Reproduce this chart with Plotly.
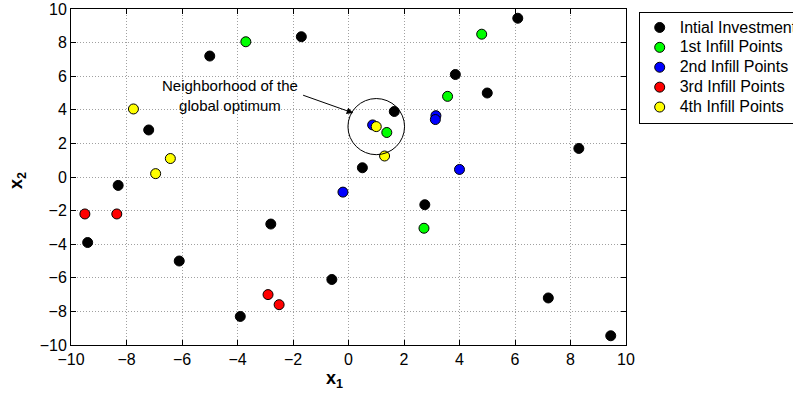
import plotly.graph_objects as go

# ---- data ----
init_x = [-5.0, -1.7, -7.2, -8.3, -9.4, -6.1, -2.8, -3.9, -0.6, 0.5, 1.65, 3.85, 5.0, 6.1, 8.3, 2.75, 7.2, 9.45]
init_y = [7.2, 8.35, 2.8, -0.5, -3.9, -5.0, -2.8, -8.3, -6.1, 0.55, 3.9, 6.1, 5.0, 9.45, 1.7, -1.65, -7.2, -9.45]

inf1_x = [-3.7, 4.8, 3.57, 1.38, 2.72]
inf1_y = [8.05, 8.5, 4.8, 2.65, -3.05]

inf2_x = [-0.2, 0.87, 3.15, 3.13, 4.0]
inf2_y = [-0.9, 3.1, 3.65, 3.42, 0.45]

inf3_x = [-9.5, -8.35, -2.9, -2.5]
inf3_y = [-2.2, -2.2, -7.0, -7.6]

inf4_x = [-7.75, -6.42, -6.95, 1.0, 1.3]
inf4_y = [4.05, 1.1, 0.2, 3.0, 1.25]

series_names = ["Intial Investment", "1st Infill Points", "2nd Infill Points",
                "3rd Infill Points", "4th Infill Points"]
series_colors = ["#000000", "#00ff00", "#0000ff", "#ff0000", "#ffff00"]

optimum_center = (1.0, 3.0)
tick_vals = [-10, -8, -6, -4, -2, 0, 2, 4, 6, 8, 10]

FONT = "Liberation Sans, Arial, Helvetica, sans-serif"

fig = go.Figure()
for xs, ys, name, col in zip([init_x, inf1_x, inf2_x, inf3_x, inf4_x],
                             [init_y, inf1_y, inf2_y, inf3_y, inf4_y],
                             series_names, series_colors):
    fig.add_trace(go.Scatter(
        x=xs, y=ys, mode="markers",
        name=f'<span style="font-size:16px">{name}</span>',
        marker=dict(size=10, color=col, line=dict(color="black", width=1)),
    ))

# circle around the neighbourhood of the global optimum
cx, cy = optimum_center
fig.add_shape(type="circle", xref="x", yref="y",
              x0=cx - 1.02, x1=cx + 1.02, y0=cy - 1.67, y1=cy + 1.67,
              line=dict(color="black", width=1))

# label text
fig.add_annotation(x=-4.27, y=4.84, xref="x", yref="y",
                   text="Neighborhood of the<br>global optimum",
                   showarrow=False, font=dict(family=FONT, size=15, color="black"))
# arrow
fig.add_annotation(x=0.17, y=3.81, ax=-1.69, ay=4.9, xref="x", yref="y",
                   axref="x", ayref="y", text="", showarrow=True,
                   arrowhead=2, arrowsize=1.3, arrowwidth=1, arrowcolor="black")

# axis titles
fig.add_annotation(x=(334 - 71) / 555, y=(345 - 379) / 336, xref="paper", yref="paper",
                   xanchor="center", yanchor="middle",
                   text="<b>x</b><sub><b>1</b></sub>", showarrow=False,
                   font=dict(family=FONT, size=18, color="black"))
fig.add_annotation(x=(17 - 71) / 555, y=(345 - 181) / 336, xref="paper", yref="paper",
                   xanchor="center", yanchor="middle",
                   text="<b>x</b><sub><b>2</b></sub>", showarrow=False, textangle=-90,
                   font=dict(family=FONT, size=18, color="black"))

axis_common = dict(
    range=[-10, 10], tickvals=tick_vals, ticks="inside", ticklen=5, tickcolor="black",
    showline=True, linecolor="black", linewidth=1, mirror="ticks",
    showgrid=True, gridcolor="#a0a0a0", griddash="1px,2px", gridwidth=1,
    zeroline=False, tickfont=dict(family=FONT, size=16, color="black"),
)
fig.update_xaxes(**axis_common)
fig.update_yaxes(**axis_common)

fig.update_layout(
    width=793, height=396,
    margin=dict(l=71, r=167, t=9, b=51, autoexpand=False),
    paper_bgcolor="white", plot_bgcolor="white",
    font=dict(family=FONT, color="black"),
    legend=dict(x=(638.7 - 71) / 555, y=1 - 2.5 / 336, xanchor="left", yanchor="top",
                bordercolor="black", borderwidth=1, bgcolor="white",
                font=dict(family=FONT, size=13, color="black")),
)

fig.write_html("out.html")
